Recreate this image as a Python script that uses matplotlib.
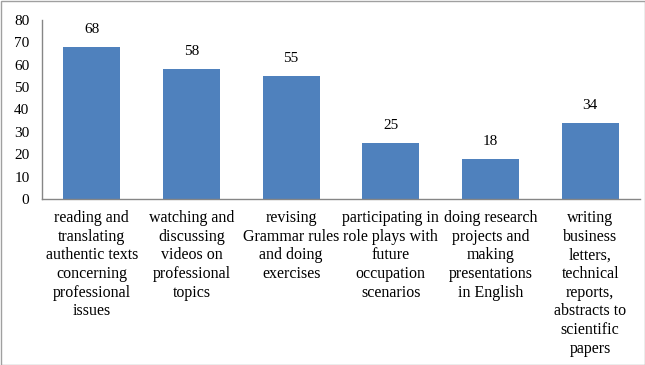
import matplotlib
matplotlib.use("Agg")
import matplotlib.pyplot as plt
from matplotlib.patches import Rectangle

categories = [
    "reading and\ntranslating\nauthentic texts\nconcerning\nprofessional\nissues",
    "watching and\ndiscussing\nvideos on\nprofessional\ntopics",
    "revising\nGrammar rules\nand doing\nexercises",
    "participating in\nrole plays with\nfuture\noccupation\nscenarios",
    "doing research\nprojects and\nmaking\npresentations\nin English",
    "writing\nbusiness\nletters,\ntechnical\nreports,\nabstracts to\nscientific\npapers",
]
values = [68, 58, 55, 25, 18, 34]
yticks = [0, 10, 20, 30, 40, 50, 60, 70, 80]

plt.rcParams['font.family'] = ['Liberation Serif', 'DejaVu Serif']
FS = 11
FSC = 11.5

fig = plt.figure(figsize=(6.45, 3.65), dpi=100)
ax = fig.add_axes([42/645, 1-199/365, 598/645, (199-20)/365])

x = list(range(len(values)))
bars = ax.bar(x, values, width=0.57, color="#4F81BD", zorder=2)
for xi, v in zip(x, values):
    ax.annotate(str(v), (xi, v), xytext=(0, 8), textcoords="offset points",
                ha="center", va="bottom", fontsize=FS)

ax.set_xlim(-0.5, len(values) - 0.5)
ax.set_ylim(0, 80)
ax.set_yticks(yticks)
ax.set_yticklabels([str(t) for t in yticks], fontsize=FS)
ax.set_xticks(x)
ax.set_xticklabels(categories, fontsize=FSC, linespacing=1.22, va="top")
ax.tick_params(axis="y", length=0, pad=9)
ax.tick_params(axis="x", length=0, pad=8)

for s in ["top", "right"]:
    ax.spines[s].set_visible(False)
for s in ["left", "bottom"]:
    ax.spines[s].set_color("#868686")
    ax.spines[s].set_linewidth(1.0)

fig.patches.append(Rectangle((0.5/645, 0.5/365), 1-1/645, 1-1/365, transform=fig.transFigure,
                             fill=False, edgecolor="#A0A0A0", linewidth=1.0))

fig.savefig("out.png", dpi=100)
